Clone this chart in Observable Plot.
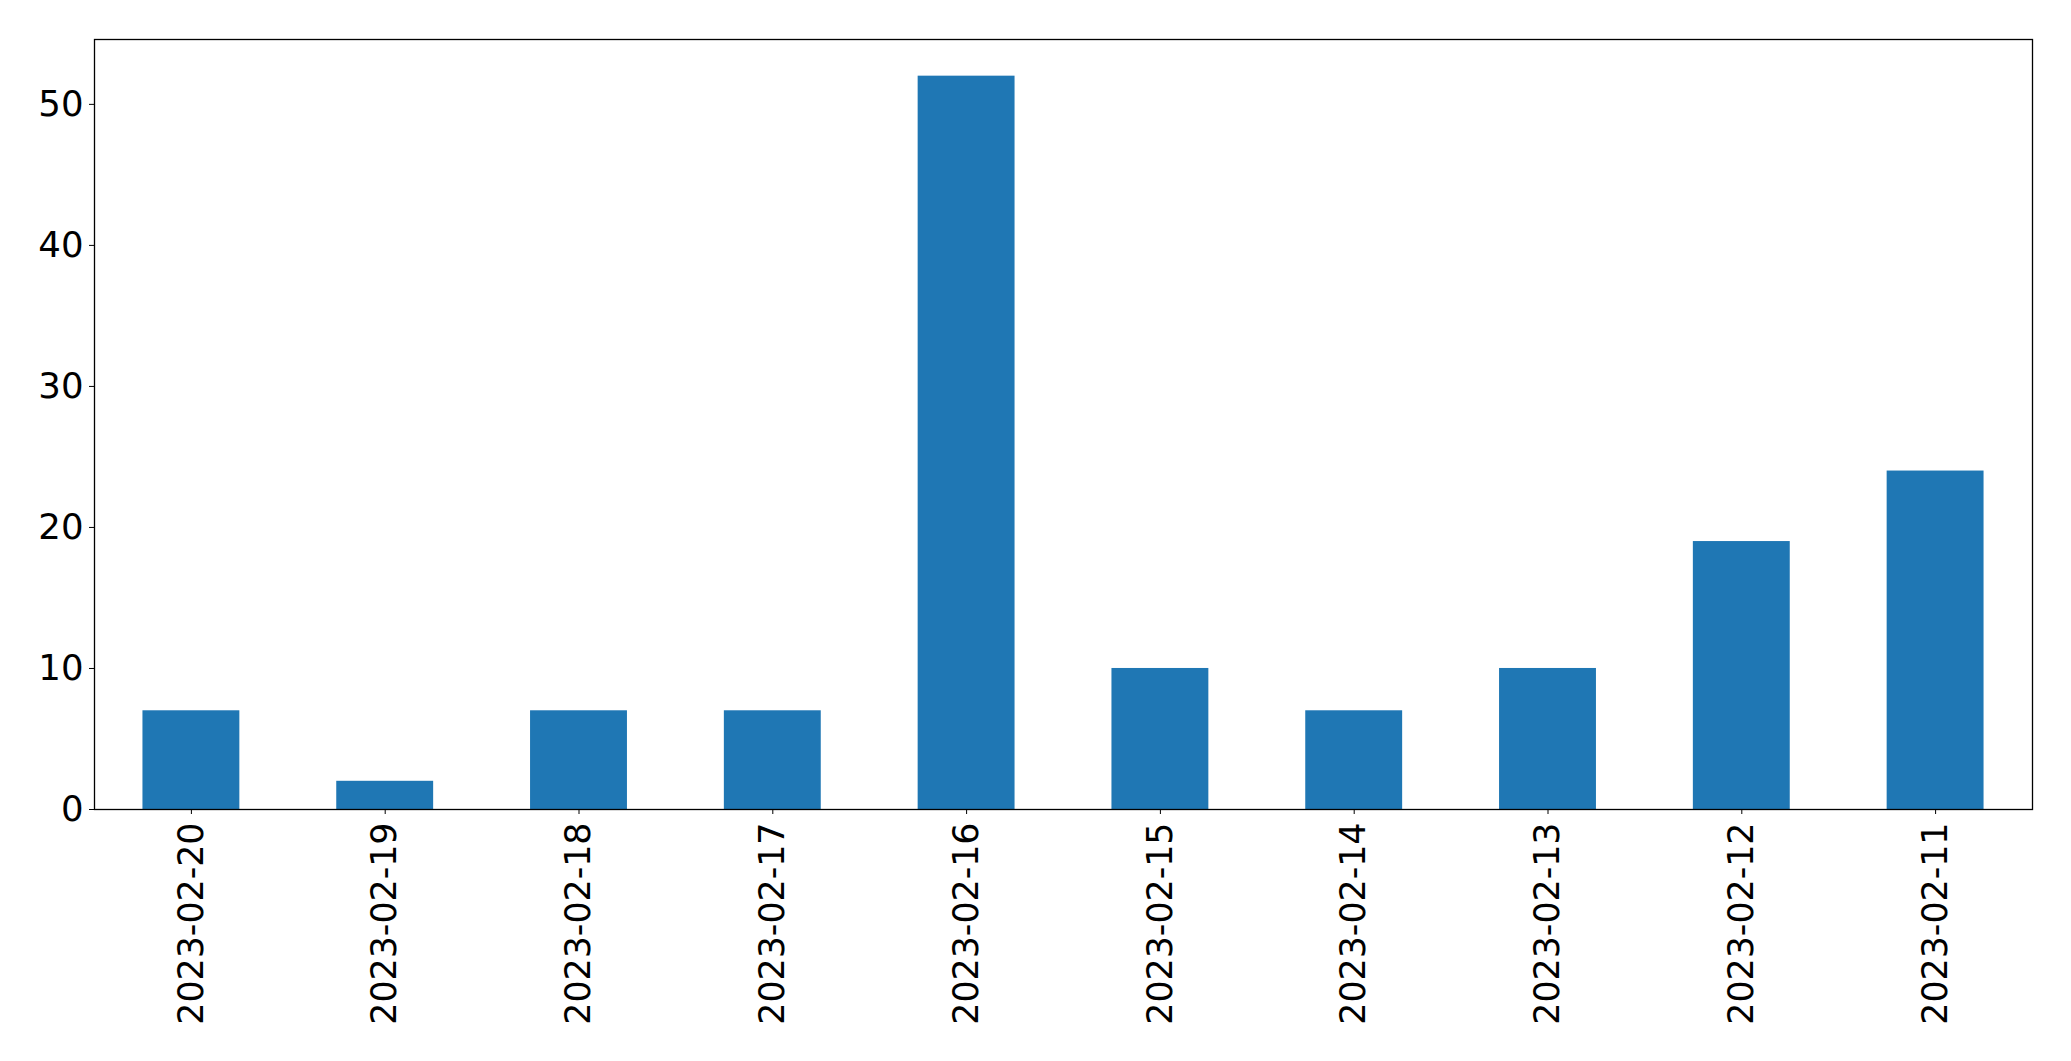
<!DOCTYPE html>
<html>
<head>
<meta charset="utf-8">
<script src="https://cdn.jsdelivr.net/npm/d3@7"></script>
<script src="https://cdn.jsdelivr.net/npm/@observablehq/plot@0.6"></script>
<style>
  html, body { margin: 0; padding: 0; background: #fff; }
  svg { display: block; }
</style>
</head>
<body>
<div id="chart"></div>
<script>
const dates = ["2023-02-20","2023-02-19","2023-02-18","2023-02-17","2023-02-16","2023-02-15","2023-02-14","2023-02-13","2023-02-12","2023-02-11"];
const counts = [7, 2, 7, 7, 52, 10, 7, 10, 19, 24];
const yTicks = [0, 10, 20, 30, 40, 50];

const data = dates.map((d, i) => ({date: d, count: counts[i]}));

const chart = Plot.plot({
  width: 2071,
  height: 1061,
  marginLeft: 94,
  marginRight: 39,
  marginTop: 39,
  marginBottom: 252,
  style: {fontFamily: "DejaVu Sans", fontSize: "35px", color: "#000", background: "#fff"},
  x: {domain: dates, paddingInner: 0.5, paddingOuter: 0.25, round: false, label: null},
  y: {domain: [0, 54.6], label: null},
  marks: [
    Plot.barY(data, {x: "date", y: "count", fill: "#1f77b4"}),
    Plot.frame({stroke: "#000", strokeWidth: 1.3}),
    Plot.axisY(yTicks, {tickSize: 5, tickPadding: 6, fontSize: 35.5, label: null, stroke: "#000"}),
    Plot.axisX({tickSize: 5, tickPadding: 8, tickRotate: -90, fontSize: 34.8, label: null, stroke: "#000"})
  ]
});
document.getElementById("chart").appendChild(chart);
</script>
</body>
</html>
